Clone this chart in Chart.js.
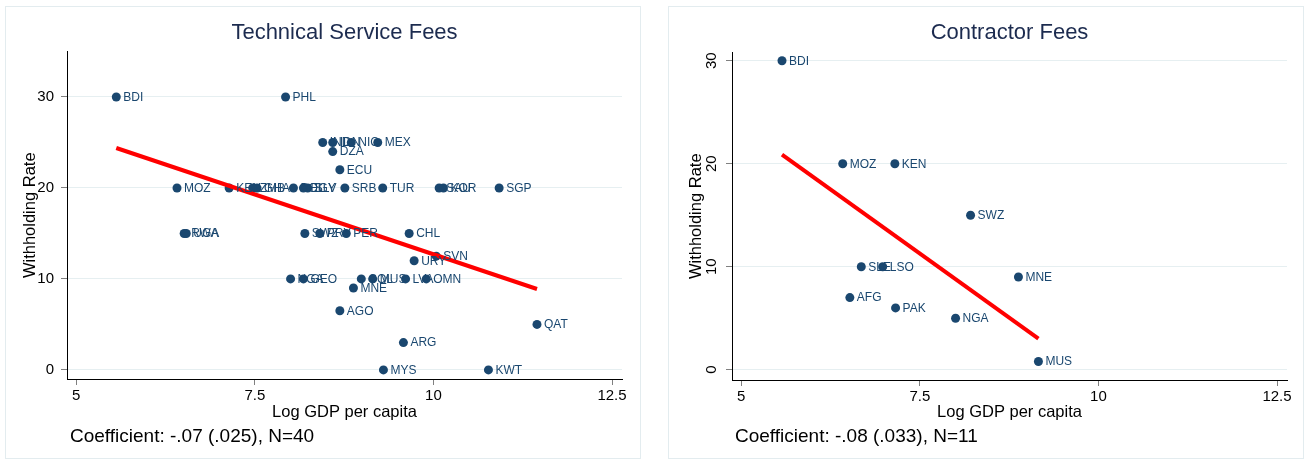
<!DOCTYPE html>
<html>
<head>
<meta charset="utf-8">
<title>Withholding rates and income</title>
<script src="https://cdn.jsdelivr.net/npm/chart.js@4.4.1/dist/chart.umd.min.js"></script>
<style>
  html, body { margin: 0; padding: 0; background: #ffffff; }
  .panel { position: absolute; top: 6px; width: 636px; height: 453px; border: 1px solid #e3ecef; box-sizing: border-box; background: #ffffff; }
  #p1 { left: 5px; }
  #p2 { left: 668px; }
  canvas { position: absolute; left: 0; top: 0; }
</style>
</head>
<body>
<div class="panel" id="p1"><canvas id="c1" width="634" height="451"></canvas></div>
<div class="panel" id="p2"><canvas id="c2" width="634" height="451"></canvas></div>
<script>
// Technical service fees: country, log GDP per capita, withholding rate (%)
const tsfCountries = ['BDI','PHL','MOZ','KEN','ZMB','GHA','BOL','EGY','SLV','SRB','TUR','SAU','KOR','SGP',
                      'IND','IDN','NIC','MEX','DZA','ECU','RWA','UGA','SWZ','PRY','PER','CHL','SVN','URY',
                      'NGA','GEO','COL','MUS','LVA','OMN','MNE','AGO','ARG','QAT','MYS','KWT'];
const tsfLogGdp = [5.56, 7.93, 6.41, 7.14, 7.47, 7.53, 8.04, 8.18, 8.24, 8.76, 9.29, 10.08, 10.14, 10.92,
                   8.45, 8.59, 8.85, 9.22, 8.59, 8.69, 6.51, 6.54, 8.20, 8.41, 8.78, 9.66, 10.04, 9.73,
                   8.00, 8.18, 8.99, 9.15, 9.61, 9.90, 8.88, 8.69, 9.58, 11.45, 9.30, 10.77];
const tsfRate = [30, 30, 20, 20, 20, 20, 20, 20, 20, 20, 20, 20, 20, 20,
                 25, 25, 25, 25, 24, 22, 15, 15, 15, 15, 15, 15, 12.5, 12,
                 10, 10, 10, 10, 10, 10, 9, 6.5, 3, 5, 0, 0];

// Contractor fees
const cfCountries = ['BDI','MOZ','KEN','SWZ','SLE','LSO','MNE','AFG','PAK','NGA','MUS'];
const cfLogGdp = [5.57, 6.42, 7.15, 8.21, 6.68, 6.98, 8.88, 6.52, 7.16, 8.00, 9.16];
const cfRate = [30, 20, 20, 15, 10, 10, 9, 7, 6, 5, 0.8];

// Axis ticks
const xTickValues = [5, 7.5, 10, 12.5];
const yTickValues = [0, 10, 20, 30];

// Panel texts
const panelTitles = ['Technical Service Fees', 'Contractor Fees'];
const panelNotes = ['Coefficient: -.07 (.025), N=40', 'Coefficient: -.08 (.033), N=11'];
const xAxisTitle = 'Log GDP per capita';
const yAxisTitle = 'Withholding Rate';

const NAVY = '#1a476f';
const FONT = "'Liberation Sans', Arial, Helvetica, sans-serif";

// Least-squares fit line across the observed range of x
function fitLine(xs, ys) {
  const n = xs.length;
  const mx = xs.reduce((a, b) => a + b, 0) / n;
  const my = ys.reduce((a, b) => a + b, 0) / n;
  let sxy = 0, sxx = 0;
  for (let i = 0; i < n; i++) { sxy += (xs[i] - mx) * (ys[i] - my); sxx += (xs[i] - mx) ** 2; }
  const b = sxy / sxx, a = my - b * mx;
  const x0 = Math.min(...xs), x1 = Math.max(...xs);
  return [{ x: x0, y: a + b * x0 }, { x: x1, y: a + b * x1 }];
}

// Country codes to the right of each marker, plus titles and note text
const annotate = {
  id: 'annotate',
  afterDatasetsDraw(chart, args, opts) {
    const ctx = chart.ctx;
    const meta = chart.getDatasetMeta(0);
    ctx.save();
    ctx.font = '12px ' + FONT;
    ctx.fillStyle = NAVY;
    ctx.textAlign = 'left';
    ctx.textBaseline = 'middle';
    meta.data.forEach((pt, i) => ctx.fillText(opts.labels[i], pt.x + 7, pt.y + 0.5));
    ctx.restore();
  },
  afterDraw(chart, args, opts) {
    const { ctx, chartArea: a } = chart;
    const cx = (a.left + a.right) / 2;
    ctx.save();
    ctx.textBaseline = 'middle';
    ctx.textAlign = 'center';
    ctx.fillStyle = '#1c2b4f';
    ctx.font = '22px ' + FONT;
    ctx.fillText(opts.title, cx, opts.titleY);
    ctx.fillStyle = '#000000';
    ctx.font = '16.5px ' + FONT;
    ctx.fillText(xAxisTitle, cx, opts.xTitleY);
    ctx.save();
    ctx.translate(opts.yTitleX, (a.top + a.bottom) / 2);
    ctx.rotate(-Math.PI / 2);
    ctx.fillText(yAxisTitle, 0, 0);
    ctx.restore();
    ctx.textAlign = 'left';
    ctx.font = '19px ' + FONT;
    ctx.fillText(opts.note, opts.noteX, opts.noteY);
    ctx.restore();
  }
};

function makeChart(id, cfg) {
  const W = 634, H = 451;
  const points = cfg.xs.map((x, i) => ({ x, y: cfg.ys[i] }));
  return new Chart(document.getElementById(id), {
    type: 'scatter',
    data: {
      datasets: [
        { data: points, order: 1, pointRadius: 4.5, pointHoverRadius: 4.5, pointBackgroundColor: NAVY, pointBorderWidth: 0, borderWidth: 0 },
        { type: 'line', data: fitLine(cfg.xs, cfg.ys), order: 0, borderColor: '#ff0000', borderWidth: 4, pointRadius: 0, fill: false, tension: 0 }
      ]
    },
    plugins: [annotate],
    options: {
      responsive: false,
      animation: false,
      events: [],
      layout: { padding: { left: 0, top: cfg.area.top, right: W - cfg.area.right, bottom: 0 } },
      plugins: {
        legend: { display: false },
        tooltip: { enabled: false },
        annotate: { labels: cfg.labels, title: cfg.title, note: cfg.note, titleY: 26, xTitleY: 405, yTitleX: cfg.yTitleX, noteX: cfg.noteX, noteY: 430 }
      },
      scales: {
        x: {
          type: 'linear', min: 4.87, max: 12.64,
          afterBuildTicks: s => { s.ticks = xTickValues.map(v => ({ value: v })); },
          afterFit: s => { s.height = H - cfg.area.bottom; },
          border: { color: '#000000', width: 1 },
          grid: { drawOnChartArea: false, drawTicks: true, tickLength: 6, tickColor: '#808080' },
          ticks: { color: '#000000', padding: 2, maxRotation: 0, font: { family: FONT, size: 15 }, callback: v => String(v) }
        },
        y: {
          type: 'linear', min: -1, max: cfg.yMax,
          afterBuildTicks: s => { s.ticks = yTickValues.map(v => ({ value: v })); },
          afterFit: s => { s.width = cfg.area.left; },
          border: { color: '#000000', width: 1 },
          grid: { color: '#e6eff1', lineWidth: 1, drawTicks: true, tickLength: 6, tickColor: '#808080' },
          ticks: Object.assign({ color: '#000000', font: { family: FONT, size: 15 }, callback: v => String(v) }, cfg.yTickStyle)
        }
      }
    }
  });
}

makeChart('c1', {
  xs: tsfLogGdp, ys: tsfRate, labels: tsfCountries, title: panelTitles[0], note: panelNotes[0],
  area: { left: 61, right: 616, top: 44.5, bottom: 372 }, yMax: 35,
  yTitleX: 24, noteX: 64,
  yTickStyle: { padding: 7 }
});

makeChart('c2', {
  xs: cfLogGdp, ys: cfRate, labels: cfCountries, title: panelTitles[1], note: panelNotes[1],
  area: { left: 63, right: 618, top: 45.5, bottom: 373 }, yMax: 30.8,
  yTitleX: 27, noteX: 66,
  yTickStyle: { padding: 6, minRotation: 90, maxRotation: 90, crossAlign: 'center' }
});
</script>
</body>
</html>
